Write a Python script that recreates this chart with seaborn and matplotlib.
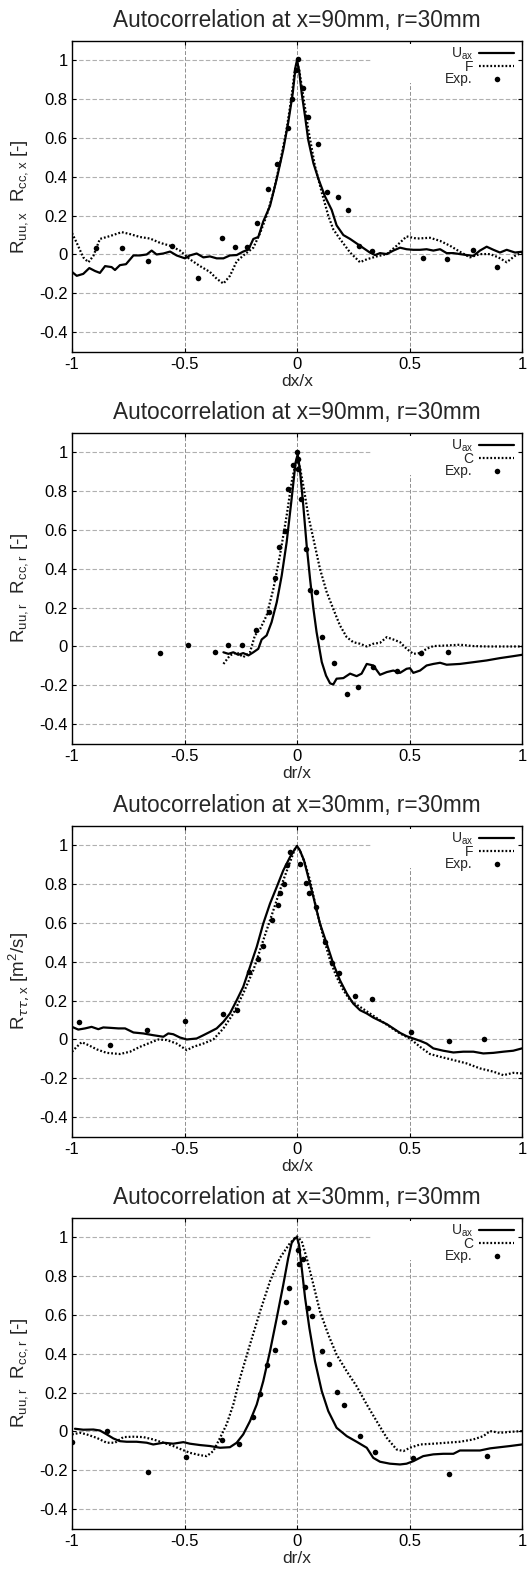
import matplotlib
matplotlib.use("Agg")
import matplotlib.pyplot as plt
import seaborn as sns
from matplotlib.patches import Rectangle
from matplotlib.ticker import FormatStrFormatter

# ---- data ----
# panel 1: x=90mm, axial separation
p1_uax_x = [-1.0, -0.979, -0.950, -0.923, -0.898, -0.876, -0.853, -0.824, -0.809, -0.787,
            -0.760, -0.727, -0.698, -0.668, -0.646, -0.624, -0.594, -0.564, -0.535, -0.498,
            -0.476, -0.446, -0.416, -0.387, -0.357, -0.327, -0.298, -0.268, -0.239, -0.216,
            -0.194, -0.172, -0.150, -0.120, -0.090, -0.061, -0.039, -0.019, -0.006, 0.0,
            0.009, 0.021, 0.036, 0.050, 0.073, 0.095, 0.124, 0.154, 0.176, 0.206,
            0.236, 0.280, 0.324, 0.347, 0.369, 0.399, 0.428, 0.458, 0.487, 0.517,
            0.547, 0.576, 0.606, 0.636, 0.665, 0.695, 0.724, 0.754, 0.784, 0.813,
            0.843, 0.873, 0.902, 0.932, 0.969, 1.0]
p1_uax_y = [-0.09, -0.11, -0.10, -0.07, -0.085, -0.095, -0.06, -0.065, -0.08, -0.055,
            -0.05, -0.005, -0.005, 0.0, 0.02, 0.0, 0.005, 0.015, -0.005, -0.02,
            -0.005, 0.005, -0.015, -0.01, -0.02, -0.02, -0.005, -0.003, 0.015, 0.025,
            0.08, 0.09, 0.17, 0.25, 0.39, 0.54, 0.68, 0.83, 0.97, 1.0,
            0.95, 0.83, 0.71, 0.59, 0.47, 0.39, 0.30, 0.23, 0.15, 0.10,
            0.08, 0.045, 0.01, -0.003, 0.007, 0.002, 0.02, 0.035, 0.027, 0.024,
            0.024, 0.027, 0.02, 0.027, 0.007, 0.007, 0.002, -0.003, -0.007, 0.02,
            0.04, 0.024, 0.01, 0.024, 0.01, 0.014]
p1_sc_x = [-1.0, -0.979, -0.950, -0.927, -0.905, -0.876, -0.831, -0.779, -0.742, -0.698,
           -0.653, -0.609, -0.564, -0.520, -0.476, -0.431, -0.387, -0.357, -0.327, -0.298,
           -0.268, -0.231, -0.194, -0.164, -0.135, -0.105, -0.076, -0.046, -0.024, -0.010,
           0.0, 0.010, 0.028, 0.050, 0.080, 0.110, 0.139, 0.161, 0.191, 0.236,
           0.280, 0.310, 0.354, 0.399, 0.443, 0.487, 0.532, 0.591, 0.636, 0.680,
           0.724, 0.769, 0.813, 0.858, 0.895, 0.932, 0.969, 1.0]
p1_sc_y = [0.11, 0.06, -0.015, -0.04, -0.007, 0.08, 0.095, 0.115, 0.105, 0.09,
           0.082, 0.06, 0.045, 0.02, -0.025, -0.06, -0.09, -0.125, -0.15, -0.11,
           -0.035, 0.002, 0.035, 0.11, 0.2, 0.32, 0.47, 0.645, 0.815, 0.95,
           0.99, 0.95, 0.815, 0.645, 0.455, 0.32, 0.2, 0.13, 0.08, 0.01,
           -0.04, -0.025, -0.01, 0.002, 0.045, 0.093, 0.082, 0.086, 0.07, 0.045,
           0.014, -0.015, 0.002, 0.002, -0.015, -0.04, -0.007, 0.01]
p1_exp_x = [-0.895, -0.779, -0.664, -0.557, -0.44, -0.335, -0.277, -0.224, -0.176, -0.13,
            -0.087, -0.041, -0.024, -0.006, 0.006, 0.028, 0.05, 0.093, 0.135, 0.182,
            0.227, 0.277, 0.335, 0.561, 0.668, 0.784, 0.89]
p1_exp_y = [0.033, 0.033, -0.036, 0.045, -0.123, 0.086, 0.038, 0.038, 0.16, 0.336,
            0.467, 0.652, 0.803, 0.95, 1.005, 0.859, 0.71, 0.569, 0.322, 0.298,
            0.228, 0.043, 0.019, -0.019, -0.022, 0.022, -0.062]

# panel 2: x=90mm, radial separation
p2_uax_x = [-0.327, -0.305, -0.283, -0.261, -0.239, -0.216, -0.194, -0.172, -0.157, -0.135,
            -0.113, -0.090, -0.068, -0.046, -0.024, -0.006, 0.003, 0.013, 0.028, 0.043,
            0.058, 0.073, 0.087, 0.110, 0.129, 0.147, 0.161, 0.176, 0.206, 0.236,
            0.265, 0.287, 0.310, 0.339, 0.369, 0.399, 0.428, 0.458, 0.487, 0.502,
            0.517, 0.547, 0.576, 0.606, 0.636, 0.665, 0.724, 0.784, 0.843, 0.902,
            0.961, 1.0]
p2_uax_y = [-0.03, -0.038, -0.03, -0.043, -0.034, -0.046, -0.03, -0.012, 0.036, 0.057,
            0.125, 0.228, 0.365, 0.537, 0.76, 0.95, 0.99, 0.91, 0.725, 0.52,
            0.348, 0.194, 0.074, -0.08, -0.15, -0.19, -0.196, -0.166, -0.163, -0.14,
            -0.153, -0.14, -0.09, -0.098, -0.146, -0.132, -0.124, -0.136, -0.115, -0.112,
            -0.136, -0.124, -0.098, -0.09, -0.084, -0.094, -0.09, -0.081, -0.072, -0.06,
            -0.05, -0.043]
p2_sc_x = [-0.327, -0.298, -0.268, -0.239, -0.209, -0.187, -0.164, -0.135, -0.105, -0.076,
           -0.046, -0.024, -0.009, 0.0, 0.013, 0.031, 0.050, 0.073, 0.102, 0.132,
           0.161, 0.191, 0.221, 0.250, 0.280, 0.310, 0.339, 0.369, 0.399, 0.428,
           0.458, 0.487, 0.517, 0.547, 0.576, 0.606, 0.665, 0.724, 0.784, 0.843,
           0.902, 1.0]
p2_sc_y = [-0.09, -0.046, -0.03, -0.055, -0.03, 0.057, 0.09, 0.16, 0.297, 0.468,
           0.674, 0.846, 0.93, 0.966, 0.923, 0.81, 0.674, 0.554, 0.4, 0.28,
           0.194, 0.108, 0.048, 0.022, 0.014, 0.0, 0.014, 0.019, 0.048, 0.036,
           0.022, -0.012, -0.038, -0.034, -0.012, 0.002, 0.005, 0.009, 0.002, 0.0,
           0.0, 0.0]
p2_exp_x = [-0.609, -0.483, -0.364, -0.307, -0.243, -0.182, -0.126, -0.098, -0.079, -0.052,
            -0.04, -0.018, 0.0, 0.006, 0.003, 0.019, 0.041, 0.056, 0.083, 0.113,
            0.164, 0.221, 0.271, 0.339, 0.443, 0.55, 0.67]
p2_exp_y = [-0.034, 0.005, -0.029, 0.005, 0.01, 0.084, 0.177, 0.352, 0.515, 0.597,
            0.811, 0.935, 1.0, 0.966, 0.914, 0.76, 0.503, 0.293, 0.28, 0.048,
            -0.086, -0.245, -0.209, -0.106, -0.127, -0.034, -0.029]

# panel 3: x=30mm, axial separation
p3_uax_x = [-1.0, -0.972, -0.942, -0.913, -0.883, -0.861, -0.831, -0.794, -0.764, -0.727,
            -0.683, -0.639, -0.594, -0.572, -0.550, -0.520, -0.490, -0.446, -0.416, -0.387,
            -0.357, -0.327, -0.298, -0.268, -0.239, -0.209, -0.179, -0.150, -0.120, -0.090,
            -0.061, -0.031, -0.013, 0.0, 0.013, 0.031, 0.050, 0.073, 0.102, 0.132,
            0.161, 0.191, 0.221, 0.250, 0.280, 0.310, 0.339, 0.369, 0.399, 0.428,
            0.458, 0.487, 0.517, 0.547, 0.576, 0.606, 0.650, 0.695, 0.739, 0.784,
            0.828, 0.873, 0.917, 0.961, 1.0]
p3_uax_y = [0.065, 0.051, 0.057, 0.065, 0.053, 0.062, 0.06, 0.057, 0.057, 0.036,
            0.031, 0.022, 0.014, 0.031, 0.027, 0.01, 0.0, 0.005, 0.022, 0.039,
            0.057, 0.091, 0.134, 0.202, 0.271, 0.374, 0.477, 0.597, 0.7, 0.786,
            0.871, 0.94, 0.974, 0.997, 0.974, 0.923, 0.837, 0.734, 0.597, 0.494,
            0.391, 0.305, 0.237, 0.185, 0.151, 0.134, 0.113, 0.096, 0.079, 0.057,
            0.034, 0.017, 0.005, -0.007, -0.021, -0.046, -0.058, -0.067, -0.063, -0.063,
            -0.072, -0.069, -0.063, -0.058, -0.046]
p3_sc_x = [-1.0, -0.979, -0.957, -0.927, -0.890, -0.846, -0.787, -0.742, -0.698, -0.653,
           -0.616, -0.579, -0.535, -0.490, -0.461, -0.416, -0.372, -0.327, -0.283, -0.239,
           -0.194, -0.150, -0.105, -0.061, -0.031, -0.009, 0.0, 0.013, 0.036, 0.058,
           0.087, 0.117, 0.147, 0.176, 0.206, 0.236, 0.280, 0.324, 0.369, 0.413,
           0.458, 0.502, 0.547, 0.591, 0.636, 0.695, 0.753, 0.813, 0.873, 0.917,
           0.961, 1.0]
p3_sc_y = [-0.063, -0.038, -0.014, -0.029, -0.051, -0.069, -0.075, -0.063, -0.038, -0.017,
           0.0, -0.003, -0.021, -0.055, -0.038, -0.021, 0.0, 0.057, 0.134, 0.237,
           0.357, 0.511, 0.666, 0.82, 0.914, 0.983, 0.997, 0.974, 0.906, 0.82,
           0.666, 0.528, 0.408, 0.322, 0.254, 0.202, 0.168, 0.134, 0.099, 0.065,
           0.031, 0.005, -0.038, -0.075, -0.089, -0.106, -0.123, -0.149, -0.166, -0.184,
           -0.172, -0.175]
p3_exp_x = [-0.97, -0.831, -0.665, -0.498, -0.33, -0.268, -0.212, -0.172, -0.153, -0.113,
            -0.086, -0.076, -0.058, -0.043, -0.031, 0.013, 0.04, 0.052, 0.083, 0.124,
            0.156, 0.188, 0.256, 0.332, 0.505, 0.676, 0.833]
p3_exp_y = [0.091, -0.026, 0.051, 0.094, 0.129, 0.151, 0.348, 0.413, 0.482, 0.614,
            0.691, 0.755, 0.803, 0.897, 0.966, 0.902, 0.806, 0.755, 0.683, 0.503,
            0.395, 0.345, 0.223, 0.208, 0.039, -0.007, 0.003]

# panel 4: x=30mm, radial separation
p4_uax_x = [-0.987, -0.950, -0.905, -0.876, -0.846, -0.816, -0.787, -0.757, -0.713, -0.668,
            -0.639, -0.594, -0.550, -0.505, -0.476, -0.431, -0.387, -0.342, -0.298, -0.268,
            -0.239, -0.209, -0.179, -0.150, -0.120, -0.090, -0.061, -0.039, -0.024, -0.009,
            0.0, 0.009, 0.021, 0.036, 0.055, 0.080, 0.110, 0.139, 0.176, 0.221,
            0.265, 0.310, 0.339, 0.369, 0.413, 0.458, 0.487, 0.517, 0.561, 0.606,
            0.650, 0.695, 0.724, 0.769, 0.813, 0.858, 0.902, 0.947, 1.0]
p4_uax_y = [0.014, 0.009, 0.01, 0.005, -0.015, -0.036, -0.05, -0.053, -0.053, -0.058,
            -0.067, -0.058, -0.063, -0.055, -0.063, -0.07, -0.075, -0.084, -0.081, -0.058,
            -0.015, 0.053, 0.139, 0.259, 0.413, 0.585, 0.756, 0.894, 0.971, 0.997,
            1.0, 0.962, 0.842, 0.688, 0.533, 0.362, 0.208, 0.105, 0.019, -0.024,
            -0.053, -0.084, -0.136, -0.156, -0.166, -0.17, -0.166, -0.153, -0.127, -0.118,
            -0.115, -0.115, -0.098, -0.098, -0.098, -0.087, -0.081, -0.075, -0.067]
p4_sc_x = [-1.0, -0.964, -0.935, -0.890, -0.846, -0.809, -0.772, -0.727, -0.683, -0.639,
           -0.594, -0.550, -0.513, -0.476, -0.431, -0.401, -0.372, -0.342, -0.313, -0.283,
           -0.253, -0.209, -0.164, -0.120, -0.076, -0.031, 0.0, 0.021, 0.043, 0.073,
           0.102, 0.139, 0.176, 0.221, 0.265, 0.310, 0.354, 0.399, 0.443, 0.473,
           0.502, 0.547, 0.606, 0.665, 0.724, 0.784, 0.828, 0.858, 0.902, 0.947,
           1.0]
p4_sc_y = [-0.015, -0.007, -0.015, -0.033, -0.058, -0.058, -0.029, -0.027, -0.029, -0.041,
           -0.058, -0.075, -0.093, -0.11, -0.122, -0.127, -0.101, -0.033, 0.036, 0.139,
           0.276, 0.448, 0.619, 0.774, 0.894, 0.971, 1.005, 0.98, 0.894, 0.756,
           0.619, 0.499, 0.396, 0.31, 0.233, 0.139, 0.053, -0.033, -0.093, -0.101,
           -0.084, -0.067, -0.063, -0.058, -0.053, -0.041, -0.024, 0.002, -0.007, -0.002,
           0.002]
p4_exp_x = [-1.0, -0.843, -0.662, -0.493, -0.333, -0.259, -0.197, -0.164, -0.132, -0.099,
            -0.058, -0.049, -0.037, 0.004, 0.007, 0.028, 0.037, 0.047, 0.068, 0.111,
            0.144, 0.176, 0.207, 0.28, 0.345, 0.514, 0.674, 0.843]
p4_exp_y = [-0.053, 0.003, -0.211, -0.13, -0.046, -0.063, 0.075, 0.194, 0.343, 0.422,
            0.563, 0.667, 0.739, 0.937, 0.863, 0.89, 0.743, 0.636, 0.593, 0.417,
            0.348, 0.202, 0.136, -0.024, -0.105, -0.139, -0.218, -0.127]

titles = ["Autocorrelation at x=90mm, r=30mm", "Autocorrelation at x=90mm, r=30mm",
          "Autocorrelation at x=30mm, r=30mm", "Autocorrelation at x=30mm, r=30mm"]
xlabels = ["dx/x", "dr/x", "dx/x", "dr/x"]
ylabels = [r"R$_\mathregular{uu,x}$  R$_\mathregular{cc,x}$ [-]",
           r"R$_\mathregular{uu,r}$  R$_\mathregular{cc,r}$ [-]",
           r"R$_{\tau\tau,\mathregular{x}}$ [m$^\mathregular{2}$/s]",
           r"R$_\mathregular{uu,r}$  R$_\mathregular{cc,r}$ [-]"]
scalar_names = ["F", "C", "F", "C"]
xticks = [-1, -0.5, 0, 0.5, 1]
yticks = [-0.4, -0.2, 0, 0.2, 0.4, 0.6, 0.8, 1]

panels = [
    (p1_uax_x, p1_uax_y, p1_sc_x, p1_sc_y, p1_exp_x, p1_exp_y),
    (p2_uax_x, p2_uax_y, p2_sc_x, p2_sc_y, p2_exp_x, p2_exp_y),
    (p3_uax_x, p3_uax_y, p3_sc_x, p3_sc_y, p3_exp_x, p3_exp_y),
    (p4_uax_x, p4_uax_y, p4_sc_x, p4_sc_y, p4_exp_x, p4_exp_y),
]

sns.set_style("ticks")
plt.rcParams["font.family"] = ["Liberation Sans", "DejaVu Sans"]
plt.rcParams["axes.unicode_minus"] = False

fig = plt.figure(figsize=(5.28, 15.71), dpi=100)
W, H = 528.0, 1571.0
tops = [41, 433, 826, 1218]   # axes top edges in pixels
ax_h = 310.5

for i, (ux, uy, sx, sy, ex, ey) in enumerate(panels):
    ax = fig.add_axes([72 / W, 1 - (tops[i] + ax_h) / H, 450 / W, ax_h / H])
    ax.set_axisbelow(True)

    sns.lineplot(x=ux, y=uy, ax=ax, color="black", lw=1.6, sort=False,
                 estimator=None, label="U$_\\mathregular{ax}$", zorder=3)
    sns.lineplot(x=sx, y=sy, ax=ax, color="black", lw=1.6, sort=False,
                 estimator=None, label=scalar_names[i], linestyle=(0, (0.8, 0.9)), zorder=3)
    sns.scatterplot(x=ex, y=ey, ax=ax, color="black", s=16, linewidth=0,
                    label="Exp.", zorder=4)

    ax.set_xlim(-1, 1)
    ax.set_ylim(-0.5, 1.1)
    ax.set_xticks(xticks)
    ax.set_yticks(yticks)
    ax.xaxis.set_major_formatter(FormatStrFormatter("%g"))
    ax.yaxis.set_major_formatter(FormatStrFormatter("%g"))

    ax.xaxis.grid(True, color="#8f8f8f", linestyle=(0, (4, 2)), linewidth=0.7)
    ax.yaxis.grid(True, color="#b0b0b0", linestyle=(0, (4, 2)), linewidth=0.8)

    # white box behind the key, hiding grid lines like the original
    ax.add_patch(Rectangle((0.664, 0.865), 0.325, 0.125, transform=ax.transAxes,
                           facecolor="white", edgecolor="none", zorder=1))

    ax.tick_params(direction="in", length=3, width=0.8, top=True, right=True,
                   labelsize=12, colors="black")
    ax.tick_params(axis="x", pad=4)
    ax.tick_params(axis="y", pad=3)
    for sp in ax.spines.values():
        sp.set_linewidth(1.0)
        sp.set_color("black")

    ax.set_title(titles[i], fontsize=16.3, pad=10)
    ax.set_xlabel(xlabels[i], fontsize=12.5)
    ax.xaxis.set_label_coords(0.5, -0.072)
    ax.set_ylabel(ylabels[i], fontsize=13.5)
    ax.yaxis.set_label_coords(-0.09, 0.5)

    ax.legend(loc="upper right", bbox_to_anchor=(0.985, 0.99), frameon=False,
              markerfirst=False, fontsize=10, handlelength=2.5, handletextpad=0.45,
              labelspacing=-0.15, borderpad=0.1, borderaxespad=0)

fig.savefig("out.png", dpi=100)
